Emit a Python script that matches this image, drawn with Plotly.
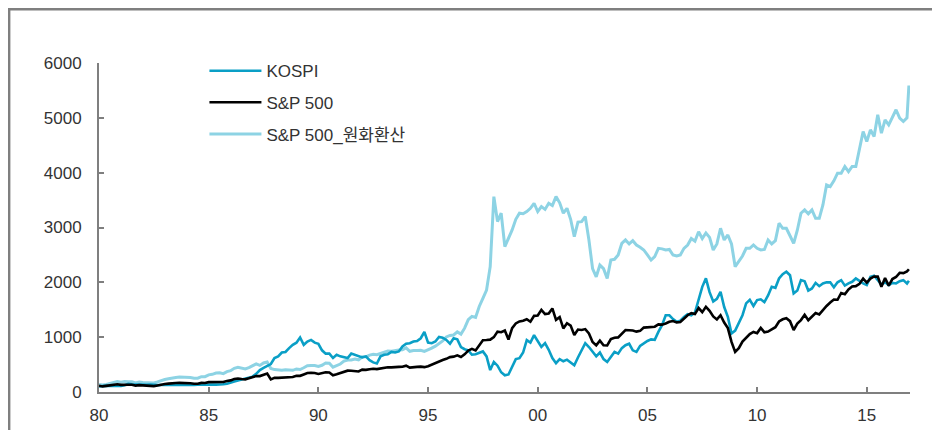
import plotly.graph_objects as go

# Bi-monthly observations (Jan, Mar, May, Jul, Sep, Nov) 1980-2016, plus Dec 2016
years = list(range(1980, 2017))
months_per_year = 6
dates = [y + k / months_per_year for y in years for k in range(months_per_year)] + [2016.92]

kospi = [
    100, 110, 116, 112, 108, 106,        # 1980
    110, 125, 150, 140, 135, 130,        # 1981
    125, 132, 135, 125, 125, 128,        # 1982
    128, 125, 122, 118, 118, 121,        # 1983
    125, 128, 130, 132, 135, 140,        # 1984
    140, 135, 135, 135, 140, 150,        # 1985
    165, 190, 210, 230, 245, 265,        # 1986
    280, 330, 400, 440, 480, 510,        # 1987
    620, 650, 720, 730, 800, 860,        # 1988
    900, 994, 860, 920, 950, 900,        # 1989
    880, 760, 700, 700, 620, 680,        # 1990
    650, 640, 620, 700, 680, 660,        # 1991
    630, 650, 580, 540, 520, 650,        # 1992
    680, 690, 730, 720, 740, 830,        # 1993
    880, 890, 920, 930, 980, 1097,       # 1994
    900, 890, 920, 1005, 990, 950,       # 1995
    880, 980, 960, 820, 780, 760,        # 1996
    680, 690, 710, 740, 650, 400,        # 1997
    548, 480, 360, 305, 320, 450,        # 1998
    600, 616, 720, 945, 900, 1036,       # 1999
    940, 823, 890, 770, 620, 525,        # 2000
    600, 560, 590, 540, 488, 630,        # 2001
    750, 890, 820, 731, 650, 720,        # 2002
    600, 548, 630, 731, 700, 800,        # 2003
    853, 880, 760, 731, 840, 890,        # 2004
    930, 960, 950, 1097, 1220, 1400,     # 2005
    1400, 1330, 1280, 1300, 1370, 1420,  # 2006
    1400, 1450, 1700, 1918, 2072, 1820,  # 2007
    1650, 1700, 1827, 1550, 1370, 1067,  # 2008
    1120, 1250, 1400, 1615, 1680, 1570,  # 2009
    1676, 1690, 1640, 1760, 1918, 1900,  # 2010
    2070, 2150, 2193, 2130, 1797, 1850,  # 2011
    2041, 2020, 1850, 1889, 1990, 1930,  # 2012
    1980, 2000, 2000, 1910, 2000, 2040,  # 2013
    1940, 1980, 2010, 2070, 2020, 1980,  # 2014
    1950, 2101, 2120, 2030, 1960, 2000,  # 2015
    1950, 1990, 1980, 2020, 2040, 1980,  # 2016
    2030,                                # Dec 2016
]

sp500 = [
    114, 102, 111, 122, 125, 141,        # 1980
    130, 136, 133, 131, 116, 126,        # 1981
    120, 112, 112, 107, 120, 138,        # 1982
    145, 153, 162, 163, 166, 166,        # 1983
    163, 159, 150, 150, 166, 163,        # 1984
    180, 181, 190, 191, 182, 202,        # 1985
    212, 238, 247, 236, 231, 249,        # 1986
    274, 292, 290, 318, 336, 230,        # 1987
    257, 258, 262, 272, 271, 273,        # 1988
    297, 295, 320, 346, 349, 346,        # 1989
    329, 339, 361, 356, 306, 322,        # 1990
    343, 375, 389, 387, 387, 375,        # 1991
    408, 403, 415, 424, 418, 431,        # 1992
    438, 451, 450, 448, 458, 461,        # 1993
    481, 445, 456, 458, 462, 453,        # 1994
    470, 500, 533, 562, 584, 605,        # 1995
    636, 645, 669, 639, 687, 757,        # 1996
    786, 757, 848, 945, 947, 955,        # 1997
    1000, 1101, 1090, 1120, 957, 1164,   # 1998
    1250, 1286, 1301, 1328, 1282, 1389,  # 1999
    1394, 1498, 1420, 1430, 1524, 1315,  # 2000
    1366, 1160, 1255, 1211, 1040, 1139,  # 2001
    1130, 1147, 1067, 912, 850, 936,     # 2002
    853, 848, 964, 990, 996, 1058,       # 2003
    1131, 1126, 1121, 1101, 1115, 1174,  # 2004
    1181, 1180, 1191, 1234, 1228, 1249,  # 2005
    1280, 1295, 1270, 1277, 1336, 1400,  # 2006
    1438, 1421, 1531, 1455, 1553, 1481,  # 2007
    1378, 1323, 1400, 1267, 1166, 914,   # 2008
    731, 798, 919, 987, 1057, 1096,      # 2009
    1074, 1169, 1089, 1102, 1141, 1181,  # 2010
    1286, 1326, 1345, 1292, 1131, 1247,  # 2011
    1312, 1408, 1310, 1379, 1441, 1416,  # 2012
    1498, 1569, 1631, 1686, 1682, 1806,  # 2013
    1783, 1872, 1924, 1931, 1972, 2068,  # 2014
    1995, 2068, 2107, 2104, 1920, 2080,  # 2015
    1940, 2060, 2097, 2174, 2168, 2199,  # 2016
    2239,                                # Dec 2016
]

sp500_krw = [
    137, 126, 139, 155, 165, 191,        # 1980
    179, 190, 187, 185, 165, 181,        # 1981
    175, 168, 170, 165, 185, 213,        # 1982
    228, 243, 261, 266, 273, 273,        # 1983
    269, 265, 250, 251, 280, 279,        # 1984
    312, 322, 346, 351, 335, 371,        # 1985
    388, 433, 452, 432, 420, 445,        # 1986
    487, 513, 485, 529, 548, 428,        # 1987
    409, 397, 398, 407, 403, 395,        # 1988
    420, 410, 442, 478, 485, 483,        # 1989
    466, 487, 530, 524, 452, 476,        # 1990
    510, 562, 584, 584, 600, 587,        # 1991
    641, 641, 673, 688, 681, 702,        # 1992
    719, 746, 744, 748, 765, 772,        # 1993
    805, 743, 758, 757, 762, 739,        # 1994
    765, 801, 837, 880, 932, 1005,       # 1995
    1032, 1040, 1097, 1056, 1164, 1320,  # 1996
    1380, 1360, 1560, 1707, 1859, 2285,  # 1997
    3563, 3107, 3261, 2650, 2800, 2956,  # 1998
    3150, 3261, 3250, 3290, 3350, 3442,  # 1999
    3290, 3380, 3330, 3442, 3400, 3563,  # 2000
    3450, 3261, 3350, 3150, 2833, 3100,  # 2001
    3107, 3200, 2773, 2250, 2101, 2315,  # 2002
    2250, 2072, 2407, 2420, 2500, 2711,  # 2003
    2773, 2700, 2760, 2681, 2640, 2590,  # 2004
    2500, 2407, 2470, 2620, 2610, 2590,  # 2005
    2600, 2498, 2480, 2500, 2620, 2680,  # 2006
    2800, 2750, 2924, 2800, 2900, 2820,  # 2007
    2590, 2700, 2986, 2773, 2864, 2700,  # 2008
    2285, 2380, 2480, 2620, 2620, 2681,  # 2009
    2620, 2590, 2600, 2773, 2700, 2760,  # 2010
    3078, 2986, 2986, 2850, 2711, 2950,  # 2011
    3261, 3320, 3250, 3320, 3168, 3168,  # 2012
    3411, 3777, 3746, 3850, 3990, 3990,  # 2013
    4113, 4020, 4113, 4113, 4416, 4750,  # 2014
    4568, 4781, 4660, 5056, 4720, 4964,  # 2015
    4873, 5000, 5147, 4995, 4933, 5000,  # 2016
    5590,                                # Dec 2016
]

y_ticks = [0, 1000, 2000, 3000, 4000, 5000, 6000]
x_ticks = [1980, 1985, 1990, 1995, 2000, 2005, 2010, 2015]
x_tick_labels = ["80", "85", "90", "95", "00", "05", "10", "15"]

names = ["KOSPI", "S&P 500", "S&P 500_원화환산"]
colors = ["#0a9fc6", "#000000", "#8dd3e4"]

FONT = "Liberation Sans, Arial, Noto Sans CJK KR, sans-serif"
AXIS_GRAY = "#7f7f7f"
TEXT = "#333333"

# The page body adds an 8px margin, so the figure is 8px smaller on each axis
W, H = 932, 422
ML, MR, MT, MB = 91, 30, 55, 38
pw, ph = W - ML - MR, H - MT - MB

fig = go.Figure()
fig.add_trace(go.Scatter(x=dates, y=sp500_krw, mode="lines", name=names[2],
                         line=dict(color=colors[2], width=3), legendrank=3,
                         legendgroup="c"))
fig.add_trace(go.Scatter(x=dates, y=kospi, mode="lines", name=names[0],
                         line=dict(color=colors[0], width=2.6), legendrank=1,
                         legendgroup="a"))
fig.add_trace(go.Scatter(x=dates, y=sp500, mode="lines", name=names[1],
                         line=dict(color=colors[1], width=2.6), legendrank=2,
                         legendgroup="b"))

fig.update_layout(
    width=W, height=H,
    margin=dict(l=ML, r=MR, t=MT, b=MB, autoexpand=False),
    paper_bgcolor="white", plot_bgcolor="white",
    font=dict(family=FONT, size=17, color=TEXT),
    showlegend=True,
    legend=dict(x=0.13, y=1.03, xanchor="left", yanchor="top",
                bgcolor="rgba(0,0,0,0)", font=dict(size=17, color=TEXT),
                itemwidth=52, tracegroupgap=6.5, traceorder="grouped"),
    xaxis=dict(range=[1980, 2016.97], tickvals=x_ticks, ticktext=x_tick_labels,
               showgrid=False, zeroline=False, showline=True, linecolor=AXIS_GRAY,
               linewidth=2, ticks="inside", ticklen=5, tickcolor=AXIS_GRAY,
               tickwidth=1.5, ticklabelstandoff=7,
               tickfont=dict(size=17, color=TEXT)),
    yaxis=dict(range=[0, 6000], tickvals=y_ticks, showgrid=False, zeroline=False,
               showline=True, linecolor=AXIS_GRAY, linewidth=2, ticks="inside",
               ticklen=5, tickcolor=AXIS_GRAY, tickwidth=1.5, ticklabelstandoff=12,
               tickfont=dict(size=17, color=TEXT)),
    shapes=[dict(type="rect", xref="paper", yref="paper",
                 x0=(1.2 - ML) / pw, x1=(929.8 - ML) / pw,
                 y0=-0.3, y1=(ph + MT - 1.2) / ph,
                 line=dict(color=AXIS_GRAY, width=2.4), fillcolor="rgba(0,0,0,0)",
                 layer="below")],
)

fig.write_html("out.html")
